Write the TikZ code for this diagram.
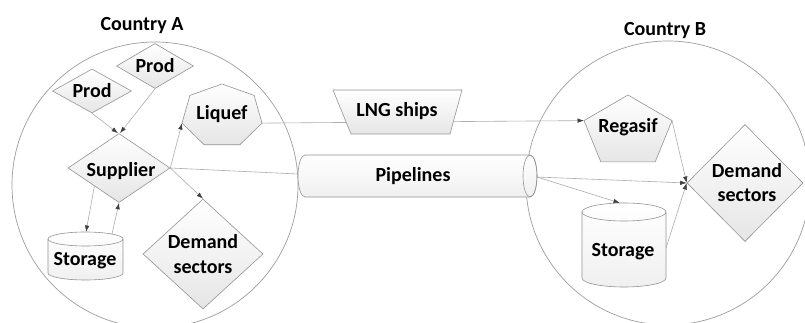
\documentclass[tikz,border=0pt]{standalone}
\usepackage{fontspec}
\setmainfont{Carlito}
\usetikzlibrary{shapes.geometric,arrows.meta,calc}
\pgfdeclarelayer{back}
\pgfdeclarelayer{links}
\pgfsetlayers{back,links,main}
\begin{document}
\begin{tikzpicture}[x=1pt,y=-1pt,
  region/.style={draw=black!38, line width=0.7pt},
  outline/.style={draw=black!42, line width=0.6pt},
  shapebox/.style={outline, top color=white, bottom color=black!10},
  tankbox/.style={outline, top color=white, bottom color=black!6},
  diam/.style={shapebox, diamond, inner sep=0pt},
  lbl/.style={font=\fontsize{20}{24.5}\selectfont\bfseries, text=black, inner sep=0pt, align=center},
  link/.style={draw=black!32, line width=0.6pt},
  flow/.style={link, -{Latex[length=6.5pt,width=4.5pt,color=black!75]}},
]
\clip (0,0) rectangle (805,323);

% ---------- Country A ----------
\node[diam, minimum width=79, minimum height=44] (prodA) at (92,91) {};
\node[diam, minimum width=77, minimum height=45] (prodB) at (155,66) {};
\node[diam, minimum width=102, minimum height=69] (sup) at (119,168) {};
\node[diam, minimum width=120, minimum height=110] (demA) at (203,254) {};

% liquefaction plant (heptagon)
\coordinate (liq-l) at (182,123.1);
\coordinate (liq-r) at (262,123.1);
\path[shapebox] (222,84) -- (254.1,95.4) -- (liq-r) -- (239.8,144.8)
  -- (204.2,144.8) -- (liq-l) -- (189.9,95.4) -- cycle;

% storage tank A
\path[tankbox] (48,239) -- (48,273) arc[start angle=180, end angle=0, x radius=37.5, y radius=7]
  -- (123,239) arc[start angle=0, end angle=-180, x radius=37.5, y radius=7] -- cycle;
\draw[outline] (48,239) arc[start angle=180, end angle=0, x radius=37.5, y radius=7];
\coordinate (stA-in) at (86,232);
\coordinate (stA-out) at (112,234);

% ---------- transport ----------
% LNG ships (trapezium)
\path[shapebox] (333,90) -- (462,90) -- (450,134) -- (351,134) -- cycle;

% pipelines (horizontal cylinder)
\path[tankbox] (305,155) -- (530,155) arc[start angle=-90, end angle=90, x radius=7, y radius=21]
  -- (305,197) arc[start angle=90, end angle=270, x radius=7, y radius=21] -- cycle;
\draw[outline] (530,176) ellipse[x radius=7, y radius=21];
\coordinate (pipe-w) at (298,174);
\coordinate (pipe-e) at (537,177);

% ---------- Country B ----------
\coordinate (reg-l) at (584,120.6);
\coordinate (reg-r) at (672,120.6);
\path[shapebox] (628,95) -- (reg-r) -- (655.2,161.9) -- (600.8,161.9) -- (reg-l) -- cycle;

\node[diam, minimum width=116, minimum height=117] (demB) at (745,183) {};

% storage tank B
\path[tankbox] (582,212) -- (582,278) arc[start angle=180, end angle=0, x radius=42, y radius=9]
  -- (666,212) arc[start angle=0, end angle=-180, x radius=42, y radius=9] -- cycle;
\draw[outline] (582,212) arc[start angle=180, end angle=0, x radius=42, y radius=9];
\coordinate (stB-in) at (620,203);
\coordinate (stB-out) at (666,248);

% ---------- labels ----------
\node[lbl, anchor=base] (tA) at (142,31) {Country A};
\node[lbl, anchor=base] (tB) at (665,36) {Country B};
\node[lbl, anchor=base] (tprodA) at (92,98) {Prod};
\node[lbl, anchor=base] (tprodB) at (155,73) {Prod};
\node[lbl, anchor=base] (tsup) at (121,177) {Supplier};
\node[lbl, anchor=base] (tliq) at (222,120) {Liquef};
\node[lbl, anchor=base] (tstA) at (85,265) {Storage};
\node[lbl] (tdemA) at (203,254) {Demand\\sectors};
\node[lbl, anchor=base] (tlng) at (397,117) {LNG ships};
\node[lbl, anchor=base] (tpipe) at (413,182) {Pipelines};
\node[lbl, anchor=base] (treg) at (628,133) {Regasif};
\node[lbl, anchor=base] (tstB) at (623,256) {Storage};
\node[lbl] (tdemB) at (747,182.5) {Demand\\sectors};

% ---------- connectors ----------
\begin{pgfonlayer}{links}
\draw[flow] (prodA.south) -- ($(sup.north)+(-1,0)$);
\draw[flow] (prodB.south) -- ($(sup.north)+(1,0)$);
\draw[flow] ($(sup.west)!0.52!(sup.south)$) -- (stA-in);
\draw[flow] (stA-out) -- (sup.south);
\draw[flow] (sup.east) -- (liq-l);
\draw[flow] (sup.east) -- (demA.north);
\draw[link] (sup.east) -- (pipe-w);
\draw[flow] (liq-r) -- (reg-l);
\draw[flow] (pipe-e) -- (demB.west);
\draw[flow] (pipe-e) -- (stB-in);
\draw[flow] (reg-r) -- (demB.west);
\draw[flow] (stB-out) -- (demB.west);
\end{pgfonlayer}

% ---------- countries ----------
\begin{pgfonlayer}{back}
\fill[white] (0,0) rectangle (805,323);
\draw[region] (155,185) circle[radius=143];
\draw[region] (668,183) circle[radius=142];
\end{pgfonlayer}
\end{tikzpicture}
\end{document}
